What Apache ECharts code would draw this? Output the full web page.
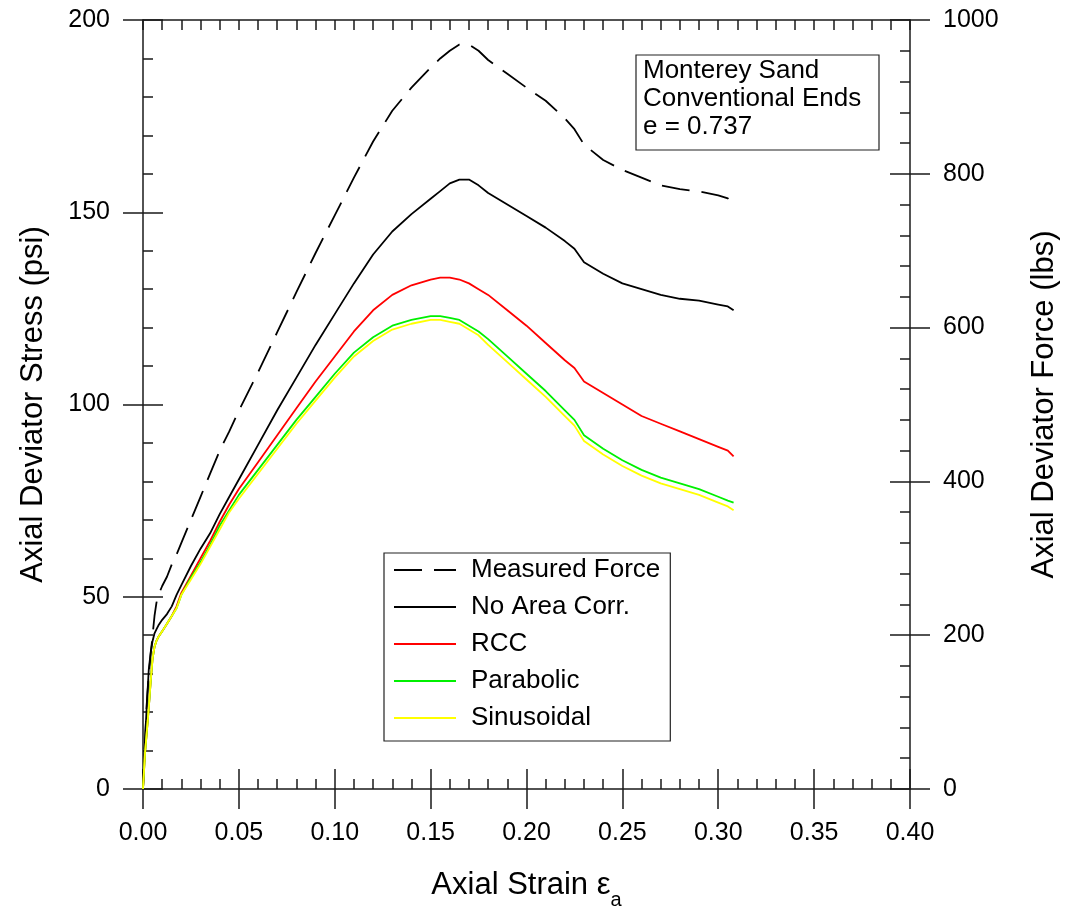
<!DOCTYPE html>
<html>
<head>
<meta charset="utf-8">
<script src="https://cdn.jsdelivr.net/npm/echarts@6/dist/echarts.min.js"></script>
<style>html,body{margin:0;padding:0;background:#fff}#c{width:1068px;height:919px}</style>
</head>
<body>
<div id="c"></div>
<script>
// ---- data ----
const strain = [0, 0.001, 0.002, 0.003, 0.004, 0.005, 0.006, 0.007, 0.008, 0.010, 0.0125, 0.015, 0.0175, 0.020, 0.025, 0.030, 0.035, 0.040, 0.045, 0.050, 0.060, 0.070, 0.080, 0.090, 0.100, 0.110, 0.120, 0.130, 0.140, 0.150, 0.155, 0.160, 0.165, 0.170, 0.175, 0.180, 0.190, 0.200, 0.210, 0.220, 0.225, 0.230, 0.240, 0.250, 0.260, 0.270, 0.280, 0.290, 0.300, 0.305, 0.308];
const measuredForce = [0, 60, 112, 148, 175, 200, 225, 242, 252, 264, 276, 292, 305, 320, 350, 380, 410, 440, 465, 492, 542, 594, 646, 697, 746, 795, 842, 882, 912, 938, 950, 960, 968, 968, 960, 948, 930, 912, 895, 872, 858, 838, 818, 805, 795, 785, 780, 777, 772, 768, 762];
const noAreaCorr = [0, 12, 22, 31, 35.5, 38.5, 40.5, 41.5, 42.5, 44, 45.5, 47.5, 50.5, 53, 58, 62.5, 66.5, 71.5, 76, 80.5, 89.5, 98.5, 107, 115.5, 123.5, 131.5, 139, 145, 149.5, 153.5, 155.5, 157.5, 158.5, 158.5, 157, 155, 152, 149, 146, 142.5, 140.5, 137, 134, 131.5, 130, 128.5, 127.5, 127, 126, 125.5, 124.5];
const rcc = [0, 9, 15, 21, 28, 34, 37, 38.5, 39.5, 41, 43, 45, 47.5, 51, 55.5, 60, 64.5, 69.5, 74, 78, 85, 92, 99, 106, 112.5, 119, 124.5, 128.5, 131, 132.5, 133, 133, 132.5, 131.5, 130, 128.5, 124.5, 120.5, 116, 111.5, 109.5, 106, 103, 100, 97, 95, 93, 91, 89, 88, 86.5];
const parabolic = [0, 9, 15, 21, 28, 34, 37, 38.5, 39.5, 41, 43, 45, 47, 50.5, 55, 59, 63.5, 68.5, 72.5, 76.5, 83, 89.5, 96, 102, 108, 113.5, 117.5, 120.5, 122, 123, 123, 122.5, 122, 120.5, 119, 117, 112.5, 108, 103.5, 98.5, 96, 92, 88.5, 85.5, 83, 81, 79.5, 78, 76, 75, 74.5];
const sinusoidal = [0, 9, 15, 21, 28, 34, 37, 38.5, 39.5, 41, 43, 45, 47, 50.5, 54.5, 58.5, 63, 67.5, 72, 75.5, 82, 88.5, 95, 101, 107, 112.5, 116.5, 119.5, 121, 122, 122, 121.5, 121, 119.5, 118, 115.5, 111, 106.5, 102, 97, 94.5, 90.5, 87, 84, 81.5, 79.5, 78, 76.5, 74.5, 73.5, 72.5];
const seriesNames = ['Measured Force', 'No Area Corr.', 'RCC', 'Parabolic', 'Sinusoidal'];
const xTicks = [0, 0.05, 0.10, 0.15, 0.20, 0.25, 0.30, 0.35, 0.40];
const yLeftTicks = [0, 50, 100, 150, 200];
const yRightTicks = [0, 200, 400, 600, 800, 1000];
const noteLines = ['Monterey Sand', 'Conventional Ends', 'e = 0.737'];

// ---- chart ----
const FONT = 'Liberation Sans, Arial, Helvetica, sans-serif';
const AX = '#1a1a1a';
const TITLE = 31;
const TICK = 25;
const pairs = (ys) => strain.map((x, i) => [x, ys[i]]);
const chart = echarts.init(document.getElementById('c'), null, {renderer: 'canvas'});

const baseX = {type: 'value', min: xTicks[0], max: xTicks[xTicks.length - 1], splitLine: {show: false}};
const baseYL = {type: 'value', min: yLeftTicks[0], max: yLeftTicks[yLeftTicks.length - 1], interval: 50, splitLine: {show: false}};
const baseYR = {type: 'value', min: yRightTicks[0], max: yRightTicks[yRightTicks.length - 1], interval: 200, splitLine: {show: false}};

const mk = (name, data, color, yIdx, dashed) => ({
  name, type: 'line', data: pairs(data), xAxisIndex: 0, yAxisIndex: yIdx,
  symbol: 'none', showSymbol: false, animation: false,
  lineStyle: {color, width: 1.8, type: dashed ? [28, 12] : 'solid'},
  itemStyle: {color}
});

chart.setOption({
  animation: false,
  backgroundColor: '#fff',
  textStyle: {fontFamily: FONT},
  grid: {left: 143, right: 158, top: 20, bottom: 130, containLabel: false},
  xAxis: [
    Object.assign({}, baseX, {
      position: 'bottom', interval: 0.05,
      axisLine: {show: true, onZero: false, lineStyle: {color: AX, width: 1.5}},
      axisTick: {show: true, inside: false, length: 20, lineStyle: {color: AX, width: 1.5}},
      axisLabel: {show: true, margin: 32, fontSize: TICK, color: '#000', fontFamily: FONT, formatter: v => v.toFixed(2)},
      name: '{a|Axial Strain ε}{s|a}', nameLocation: 'middle', nameGap: 81,
      nameTextStyle: {fontFamily: FONT, color: '#000', rich: {
        a: {fontSize: TITLE, fontFamily: FONT, color: '#000', padding: [0, 0, 9, 0], verticalAlign: 'bottom'},
        s: {fontSize: 20, fontFamily: FONT, color: '#000', verticalAlign: 'bottom'}
      }}
    }),
    Object.assign({}, baseX, {
      position: 'bottom', interval: 0.05,
      axisLine: {show: false, onZero: false},
      axisTick: {show: true, inside: true, length: 20, lineStyle: {color: AX, width: 1.5}},
      minorTick: {show: true, splitNumber: 5, length: 10, lineStyle: {color: AX, width: 1.5}},
      axisLabel: {show: false}
    }),
    Object.assign({}, baseX, {
      position: 'top', interval: 0.01,
      axisLine: {show: true, onZero: false, lineStyle: {color: AX, width: 1.5}},
      axisTick: {show: true, inside: true, length: 10, lineStyle: {color: AX, width: 1.5}},
      axisLabel: {show: false}
    })
  ],
  yAxis: [
    Object.assign({}, baseYL, {
      position: 'left',
      axisLine: {show: true, onZero: false, lineStyle: {color: AX, width: 1.5}},
      axisTick: {show: true, inside: false, length: 20, lineStyle: {color: AX, width: 1.5}},
      axisLabel: {show: true, margin: 33, fontSize: TICK, color: '#000', fontFamily: FONT},
      name: 'Axial Deviator Stress (psi)', nameLocation: 'middle', nameGap: 94,
      nameTextStyle: {fontSize: TITLE, color: '#000', fontFamily: FONT}
    }),
    Object.assign({}, baseYL, {
      position: 'left',
      axisLine: {show: false, onZero: false},
      axisTick: {show: true, inside: true, length: 20, lineStyle: {color: AX, width: 1.5}},
      minorTick: {show: true, splitNumber: 5, length: 10, lineStyle: {color: AX, width: 1.5}},
      axisLabel: {show: false}
    }),
    Object.assign({}, baseYR, {
      position: 'right',
      axisLine: {show: true, onZero: false, lineStyle: {color: AX, width: 1.5}},
      axisTick: {show: true, inside: false, length: 20, lineStyle: {color: AX, width: 1.5}},
      axisLabel: {show: true, margin: 33, fontSize: TICK, color: '#000', fontFamily: FONT, formatter: v => String(v)},
      name: 'Axial Deviator Force (lbs)', nameLocation: 'middle', nameGap: 119, nameRotate: 90,
      nameTextStyle: {fontSize: TITLE, color: '#000', fontFamily: FONT}
    }),
    Object.assign({}, baseYR, {
      position: 'right',
      axisLine: {show: false, onZero: false},
      axisTick: {show: true, inside: true, length: 20, lineStyle: {color: AX, width: 1.5}},
      minorTick: {show: true, splitNumber: 5, length: 10, lineStyle: {color: AX, width: 1.5}},
      axisLabel: {show: false}
    })
  ],
  legend: {
    show: true, orient: 'vertical', left: 384, top: 553,
    data: seriesNames,
    itemWidth: 62, itemHeight: 14, itemGap: 7,
    padding: [2, 10, 8, 9],
    borderColor: '#222', borderWidth: 1.2, backgroundColor: '#fff',
    itemStyle: {opacity: 0},
    lineStyle: {width: 2},
    textStyle: {fontSize: 26, color: '#000', fontFamily: FONT, lineHeight: 30, padding: [0, 0, 0, 10]},
    selectedMode: false
  },
  graphic: [
    {type: 'rect', z: 100, shape: {x: 636, y: 55, width: 243, height: 95},
     style: {fill: '#fff', stroke: '#222', lineWidth: 1.2}},
    {type: 'text', z: 101, x: 643, y: 57,
     style: {text: noteLines.join('\n'), font: '26px ' + FONT, lineHeight: 28, fill: '#000'}}
  ],
  series: [
    mk(seriesNames[0], measuredForce, '#000000', 2, true),
    mk(seriesNames[1], noAreaCorr, '#000000', 0, false),
    mk(seriesNames[2], rcc, '#ff0000', 0, false),
    mk(seriesNames[3], parabolic, '#00f000', 0, false),
    mk(seriesNames[4], sinusoidal, '#ffff00', 0, false)
  ]
});
</script>
</body>
</html>
